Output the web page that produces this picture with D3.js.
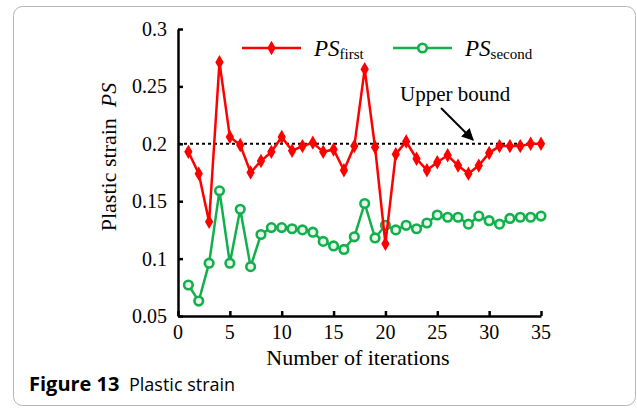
<!DOCTYPE html>
<html>
<head>
<meta charset="utf-8">
<script src="https://cdn.jsdelivr.net/npm/d3@7"></script>
<style>
  body { margin: 0; background: #fff; }
  svg { display: block; }
</style>
</head>
<body>
<div id="graphic"></div>
<script>
var iterations = d3.range(1, 36);
var psFirst = [0.193, 0.174, 0.132, 0.271, 0.206, 0.199, 0.175, 0.185, 0.193, 0.206,
  0.194, 0.198, 0.201, 0.193, 0.195, 0.177, 0.198, 0.265, 0.197, 0.113,
  0.191, 0.202, 0.187, 0.177, 0.184, 0.190, 0.181, 0.174, 0.181, 0.192,
  0.198, 0.198, 0.198, 0.200, 0.200];
var psSecond = [0.077, 0.063, 0.096, 0.159, 0.096, 0.143, 0.093, 0.121, 0.127, 0.127,
  0.126, 0.125, 0.123, 0.115, 0.111, 0.108, 0.119, 0.148, 0.118, 0.129,
  0.125, 0.129, 0.126, 0.131, 0.138, 0.136, 0.136, 0.130, 0.137, 0.133,
  0.130, 0.135, 0.136, 0.136, 0.137];
var xTicks = [0, 5, 10, 15, 20, 25, 30, 35];
var yTicks = [0.05, 0.1, 0.15, 0.2, 0.25, 0.3];
var upperBound = 0.2;

var graphic = {};
var W = 637, H = 412;
var pLeft = 178, pRight = 541, pTop = 29, pBottom = 316;
var serif = "'Liberation Serif', 'Times New Roman', serif";
var red = "#ff0000", green = "#12b04c";

graphic.svg = d3.select("#graphic").append("svg").attr("width", W).attr("height", H);
graphic.svg.append("rect").attr("width", W).attr("height", H).attr("fill", "#fff");
graphic.svg.append("rect").attr("x", 13.5).attr("y", 6.5).attr("width", 622).attr("height", 399)
  .attr("rx", 9).attr("fill", "none").attr("stroke", "#b5b5b5").attr("stroke-width", 1);

var x = d3.scaleLinear().domain([0, 35]).range([pLeft, pRight]);
var y = d3.scaleLinear().domain([0.05, 0.3]).range([pBottom, pTop]);

// axes, ticks pointing inward
var xAxis = graphic.svg.append("g").attr("transform", "translate(0," + pBottom + ")")
  .call(d3.axisTop(x).tickValues(xTicks).tickSize(5).tickSizeOuter(0).tickFormat(""));
var yAxis = graphic.svg.append("g").attr("transform", "translate(" + pLeft + ",0)")
  .call(d3.axisRight(y).tickValues(yTicks).tickSize(5).tickSizeOuter(0).tickFormat(""));
[xAxis, yAxis].forEach(function(a) {
  a.select(".domain").attr("stroke", "#000").attr("stroke-width", 2.5);
  a.selectAll(".tick line").attr("stroke", "#000").attr("stroke-width", 2.5);
});

graphic.svg.selectAll(".xlab").data(xTicks).enter().append("text")
  .attr("x", function(d) { return x(d); }).attr("y", 339)
  .attr("text-anchor", "middle").attr("font-family", serif).attr("font-size", 20)
  .text(function(d) { return d; });
graphic.svg.selectAll(".ylab").data(yTicks).enter().append("text")
  .attr("x", 167).attr("y", function(d) { return y(d) + 7; })
  .attr("text-anchor", "end").attr("font-family", serif).attr("font-size", 20)
  .text(function(d) { return d; });

graphic.svg.append("text").attr("x", 358).attr("y", 365).attr("text-anchor", "middle")
  .attr("font-family", serif).attr("font-size", 22).text("Number of iterations");

var yt = graphic.svg.append("text").attr("transform", "translate(116,157) rotate(-90)")
  .attr("text-anchor", "middle").attr("font-family", serif).attr("font-size", 22);
yt.append("tspan").text("Plastic strain\u00a0\u00a0");
yt.append("tspan").attr("font-style", "italic").text("PS");

// upper bound dashed line
graphic.svg.append("line").attr("x1", x(0)).attr("x2", x(35))
  .attr("y1", y(upperBound)).attr("y2", y(upperBound))
  .attr("stroke", "#000").attr("stroke-width", 2).attr("stroke-dasharray", "3,3");

var line = d3.line().x(function(d, i) { return x(iterations[i]); }).y(function(d) { return y(d); });
var diamond = d3.symbol().type(d3.symbolDiamond).size(60);

function drawSeries(values, color, marker) {
  graphic.svg.append("path").datum(values).attr("d", line)
    .attr("fill", "none").attr("stroke", color).attr("stroke-width", 2.5);
  var pts = graphic.svg.append("g").selectAll("g").data(values).enter().append("g")
    .attr("transform", function(d, i) { return "translate(" + x(iterations[i]) + "," + y(d) + ")"; });
  if (marker === "diamond") {
    pts.append("path").attr("d", diamond).attr("fill", color);
  } else {
    pts.append("circle").attr("r", 4.3).attr("fill", "#e8f7ec").attr("stroke", color).attr("stroke-width", 2.6);
  }
}
drawSeries(psSecond, green, "circle");
drawSeries(psFirst, red, "diamond");

// legend
function legendItem(x0, color, marker, sub) {
  var g = graphic.svg.append("g");
  g.append("line").attr("x1", x0).attr("x2", x0 + 59).attr("y1", 48).attr("y2", 48)
    .attr("stroke", color).attr("stroke-width", 2.5);
  var m = g.append("g").attr("transform", "translate(" + (x0 + 29.5) + ",48)");
  if (marker === "diamond") m.append("path").attr("d", diamond).attr("fill", color);
  else m.append("circle").attr("r", 4.3).attr("fill", "#e8f7ec").attr("stroke", color).attr("stroke-width", 2.6);
  var t = g.append("text").attr("x", x0 + 72).attr("y", 56).attr("font-family", serif);
  t.append("tspan").attr("font-style", "italic").attr("font-size", 23).text("PS");
  t.append("tspan").attr("font-size", 15).attr("dy", 3).text(sub);
}
legendItem(242, red, "diamond", "first");
legendItem(393, green, "circle", "second");

// annotation
graphic.svg.append("text").attr("x", 400).attr("y", 101).attr("font-family", serif)
  .attr("font-size", 21).text("Upper bound");
graphic.svg.append("defs").append("marker").attr("id", "arrow").attr("viewBox", "0 0 10 10")
  .attr("refX", 9).attr("refY", 5).attr("markerWidth", 6).attr("markerHeight", 6)
  .attr("orient", "auto").append("path").attr("d", "M0,0L10,5L0,10z").attr("fill", "#000");
graphic.svg.append("line").attr("x1", 441).attr("y1", 108).attr("x2", 473).attr("y2", 140)
  .attr("stroke", "#000").attr("stroke-width", 2).attr("marker-end", "url(#arrow)");

// caption
var cap = graphic.svg.append("text").attr("x", 29).attr("y", 391)
  .attr("font-family", "'Open Sans', 'Noto Sans', sans-serif");
cap.append("tspan").attr("font-weight", "bold").attr("font-size", 20).text("Figure 13");
cap.append("tspan").attr("x", 129).attr("font-size", 18).text("Plastic strain");
</script>
</body>
</html>
